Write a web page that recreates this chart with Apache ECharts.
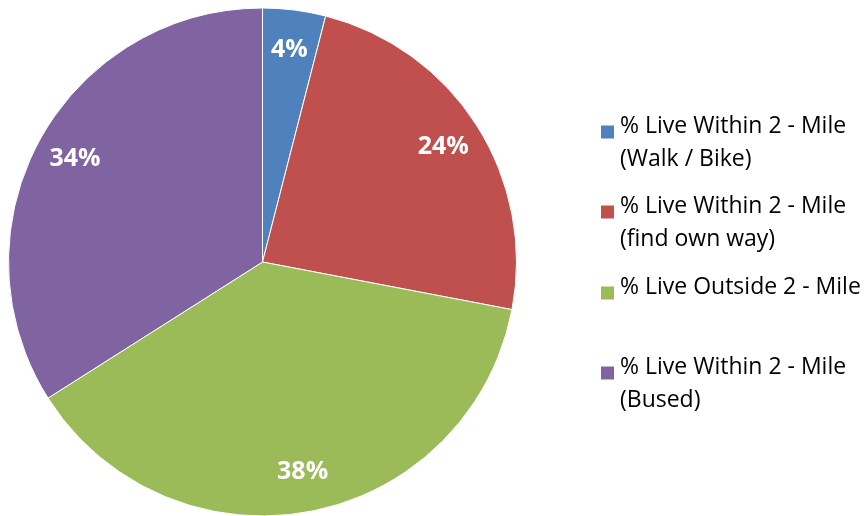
<!DOCTYPE html>
<html>
<head>
<meta charset="utf-8">
<script src="https://cdn.jsdelivr.net/npm/echarts@6/dist/echarts.min.js"></script>
<style>html,body{margin:0;padding:0;background:#fff;}#c{width:868px;height:516px;}</style>
</head>
<body>
<div id="c"></div>
<script>
var categories = [
  '% Live Within 2 - Mile\n(Walk / Bike)',
  '% Live Within 2 - Mile\n(find own way)',
  '% Live Outside 2 - Mile',
  '% Live Within 2 - Mile\n(Bused)'
];
var values = [4, 24, 38, 34];
var colors = ['#4F81BD', '#C0504D', '#9BBB59', '#8064A2'];

var FONT = '"Open Sans", sans-serif';
var LH = 33;
var SHIFT = 6;            // icon sits this far below the first text line centre
var legendTops = [142, 222, 298, 383];

var data = categories.map(function (c, i) {
  return { name: c, value: values[i], itemStyle: { color: colors[i] } };
});

var legends = categories.map(function (c, i) {
  var lines = c.split('\n');
  var fmt, totalH;
  if (lines.length > 1) {
    var e = LH - 2 * SHIFT;
    fmt = '{e| }\n' + lines.map(function (l) { return '{t|' + l + '}'; }).join('\n');
    totalH = e + LH * lines.length;
  } else {
    fmt = '{t|' + lines[0] + '}\n{f| }';
    totalH = LH + 2 * SHIFT;
  }
  return {
    orient: 'vertical',
    left: 599,
    top: legendTops[i] - totalH / 2,
    padding: 0,
    itemWidth: 15,
    itemHeight: 15,
    itemGap: 0,
    icon: 'rect',
    selectedMode: false,
    data: [c],
    formatter: function () { return fmt; },
    textStyle: {
      fontFamily: FONT,
      fontSize: 23,
      color: '#000',
      rich: {
        t: { fontFamily: FONT, fontSize: 23, color: '#000', lineHeight: LH },
        e: { fontSize: 1, lineHeight: LH - 2 * SHIFT },
        f: { fontSize: 1, lineHeight: 2 * SHIFT }
      }
    }
  };
});

var chart = echarts.init(document.getElementById('c'), null, { renderer: 'canvas' });
chart.setOption({
  animation: false,
  color: colors,
  legend: legends,
  series: [
    {
      type: 'pie',
      center: [262.5, 262],
      radius: [0, 254],
      startAngle: 90,
      clockwise: true,
      silent: true,
      label: { show: false },
      labelLine: { show: false },
      itemStyle: { borderColor: '#fff', borderWidth: 1 },
      data: data
    },
    {
      type: 'pie',
      center: [262.5, 262],
      radius: [168, 254],
      startAngle: 90,
      clockwise: true,
      silent: true,
      legendHoverLink: false,
      itemStyle: { color: 'rgba(0,0,0,0)', borderWidth: 0 },
      label: {
        show: true,
        position: 'inside',
        formatter: '{d}%',
        color: '#fff',
        fontFamily: FONT,
        fontWeight: 'bold',
        fontSize: 25
      },
      labelLine: { show: false },
      data: categories.map(function (c, i) { return { name: c, value: values[i] }; })
    }
  ]
});
</script>
</body>
</html>
